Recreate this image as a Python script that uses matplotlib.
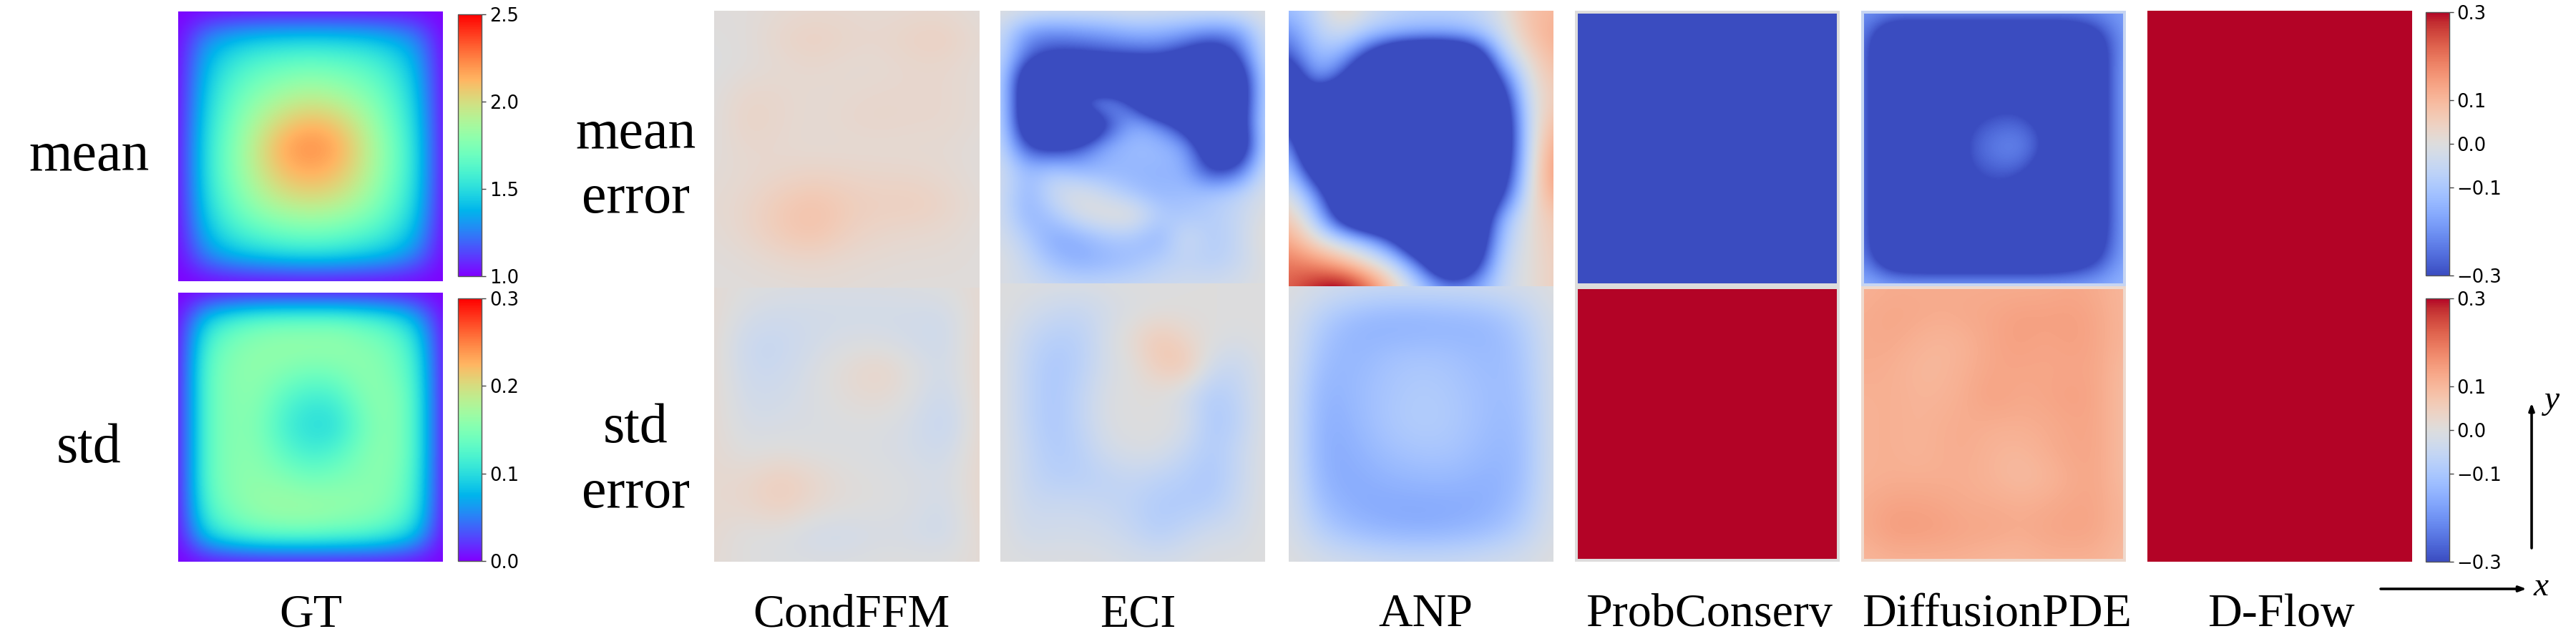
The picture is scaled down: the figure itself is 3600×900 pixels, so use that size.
# fields, coarse grids get smoothed by imshow
import matplotlib
matplotlib.use("Agg")
import matplotlib.pyplot as plt
from matplotlib.cm import ScalarMappable
from matplotlib.colors import Normalize

W, H = 3600, 900

gt_mean = [
    [1.0, 1.0, 1.0, 1.0, 1.0, 1.0, 1.0, 1.0, 1.0, 1.0, 1.0],
    [1.0, 1.28, 1.38, 1.43, 1.45, 1.46, 1.45, 1.43, 1.38, 1.28, 1.0],
    [1.0, 1.38, 1.55, 1.64, 1.68, 1.7, 1.68, 1.64, 1.55, 1.38, 1.0],
    [1.0, 1.43, 1.64, 1.76, 1.85, 1.89, 1.85, 1.76, 1.64, 1.43, 1.0],
    [1.0, 1.47, 1.7, 1.89, 2.03, 2.1, 2.05, 1.9, 1.7, 1.47, 1.0],
    [1.0, 1.5, 1.74, 1.98, 2.17, 2.24, 2.17, 1.98, 1.75, 1.5, 1.0],
    [1.0, 1.5, 1.74, 1.95, 2.1, 2.15, 2.1, 1.95, 1.74, 1.5, 1.0],
    [1.0, 1.47, 1.68, 1.85, 1.96, 2.0, 1.96, 1.85, 1.68, 1.47, 1.0],
    [1.0, 1.4, 1.58, 1.68, 1.74, 1.76, 1.74, 1.68, 1.58, 1.4, 1.0],
    [1.0, 1.27, 1.4, 1.46, 1.5, 1.52, 1.5, 1.46, 1.4, 1.27, 1.0],
    [1.0, 1.0, 1.0, 1.0, 1.0, 1.0, 1.0, 1.0, 1.0, 1.0, 1.0],
]
gt_std = [
    [0, 0, 0, 0, 0, 0, 0, 0, 0, 0, 0],
    [0, .09, .12, .135, .14, .14, .14, .13, .115, .08, 0],
    [0, .12, .15, .16, .165, .165, .165, .155, .145, .11, 0],
    [0, .13, .155, .16, .15, .14, .145, .16, .15, .12, 0],
    [0, .13, .155, .155, .125, .11, .115, .15, .16, .125, 0],
    [0, .13, .155, .15, .115, .098, .1, .14, .16, .125, 0],
    [0, .13, .155, .155, .13, .115, .125, .15, .16, .125, 0],
    [0, .13, .155, .16, .155, .145, .15, .155, .155, .12, 0],
    [0, .12, .15, .165, .17, .17, .165, .16, .15, .115, 0],
    [0, .09, .12, .135, .14, .14, .135, .13, .115, .085, 0],
    [0, 0, 0, 0, 0, 0, 0, 0, 0, 0, 0],
]
condffm_mean = [
    [.005, .005, .015, .02, .02, .015, .02, .02, .005],
    [0, .005, .03, .045, .03, .025, .04, .045, .015],
    [-.005, .005, .015, .025, .015, .015, .025, .025, .01],
    [0, .03, .025, .015, .02, .025, .025, .025, .01],
    [0, .04, .025, .015, .025, .03, .025, .025, .01],
    [.005, .025, .02, .015, .015, .015, .015, .015, .005],
    [.01, .02, .03, .04, .035, .03, .03, .02, .005],
    [.015, .03, .06, .08, .055, .045, .05, .035, .01],
    [.01, .03, .06, .08, .045, .03, .025, .02, .005],
    [.005, .01, .025, .03, .02, .015, .01, .01, .005],
    [.005, .005, .005, .01, .01, .005, .005, .005, .005],
]
condffm_std = [
    [.015, 0, -.005, -.01, -.01, -.01, -.005, 0, .02],
    [.02, -.02, -.03, -.025, -.025, -.025, -.025, -.03, .025],
    [.02, -.045, -.045, -.025, -.01, -.01, -.025, -.035, .03],
    [.02, -.04, -.04, -.01, .015, .04, 0, -.03, .03],
    [.02, -.03, -.025, -.01, .01, .02, -.005, -.045, .03],
    [.02, -.02, -.015, -.01, -.005, -.005, -.02, -.06, .03],
    [.02, -.005, .005, -.005, -.005, -.01, -.02, -.035, .03],
    [.02, .025, .055, .03, .005, 0, -.01, -.02, .03],
    [.02, .025, .05, .02, .005, 0, -.01, -.03, .03],
    [.02, -.005, -.005, -.03, -.03, -.015, -.02, -.035, .025],
    [.015, 0, -.005, -.005, -.005, 0, 0, 0, .015],
]
eci_mean = [
    [0, -.01, -.02, -.02, -.02, -.01, -.02, -.02, -.02, -.01, 0],
    [-.03, -.2, -.22, -.2, -.18, -.15, -.15, -.18, -.22, -.2, -.02],
    [-.04, -.26, -.32, -.32, -.3, -.29, -.28, -.36, -.45, -.3, -.03],
    [-.04, -.45, -.6, -.6, -.6, -.6, -.6, -.6, -.6, -.45, -.04],
    [-.04, -.45, -.6, -.2, -.12, -.3, -.6, -.6, -.6, -.45, -.04],
    [-.03, -.45, -.6, -.6, -.35, -.14, -.2, -.38, -.6, -.42, -.03],
    [-.03, -.3, -.35, -.28, -.14, -.12, -.12, -.16, -.45, -.5, -.03],
    [-.02, -.13, -.09, -.14, -.14, -.14, -.14, -.14, -.35, -.28, -.02],
    [-.02, -.15, -.03, 0, -.05, -.11, -.14, -.12, -.1, -.07, -.01],
    [-.02, -.15, -.1, -.01, .015, .025, -.08, -.1, -.08, -.05, 0],
    [-.015, -.08, -.17, -.15, -.1, -.1, -.15, -.02, -.09, -.05, .015],
    [0, -.05, -.12, -.16, -.14, -.12, -.08, -.06, -.08, -.05, 0],
    [-.01, -.03, -.05, -.06, -.06, -.05, -.04, -.03, -.03, -.02, 0],
]
eci_std = [
    [0, -.005, -.005, -.005, -.005, 0, 0, 0, 0, 0, 0],
    [0, -.02, -.04, -.05, -.025, -.01, -.005, 0, 0, 0, 0],
    [0, -.05, -.08, -.075, -.02, .02, .07, .03, 0, -.01, 0],
    [0, -.06, -.1, -.075, -.02, 0, .06, .075, -.03, -.05, 0],
    [0, -.06, -.1, -.06, -.01, 0, 0, -.03, -.09, -.06, 0],
    [0, -.06, -.1, -.06, -.01, 0, 0, -.01, -.1, -.07, 0],
    [0, -.05, -.09, -.075, -.025, -.01, -.01, -.05, -.09, -.05, 0],
    [0, -.05, -.075, -.075, -.065, -.05, -.065, -.08, -.1, -.05, 0],
    [0, -.04, -.04, -.04, -.05, -.065, -.09, -.09, -.08, -.04, 0],
    [0, -.03, -.025, -.025, -.03, -.05, -.08, -.05, -.025, -.025, 0],
    [0, -.005, -.005, -.005, -.01, -.015, -.015, -.01, -.005, -.005, 0],
]
anp_mean = [
    [-.12, -.06, .05, -.02, -.06, -.07, -.07, -.06, -.01, .08, .1],
    [-.22, -.08, -.03, -.1, -.13, -.15, -.15, -.12, -.04, .07, .12],
    [-.3, -.12, -.15, -.35, -.55, -.6, -.6, -.5, -.1, .02, .1],
    [-.5, -.16, -.3, -.6, -.6, -.6, -.6, -.6, -.3, -.01, .07],
    [-.5, -.5, -.6, -.6, -.6, -.6, -.6, -.6, -.45, -.03, .06],
    [-.3, -.6, -.6, -.6, -.6, -.6, -.6, -.6, -.5, -.05, .1],
    [-.15, -.6, -.6, -.6, -.6, -.6, -.6, -.6, -.5, -.05, .14],
    [-.08, -.4, -.6, -.6, -.6, -.6, -.6, -.6, -.45, -.04, .16],
    [0, -.18, -.5, -.6, -.6, -.6, -.6, -.6, -.35, -.02, .13],
    [.07, -.08, -.4, -.6, -.6, -.6, -.6, -.55, -.15, 0, .07],
    [.13, .02, -.05, -.12, -.3, -.6, -.6, -.5, -.1, 0, .06],
    [.2, .17, .1, .02, -.05, -.25, -.6, -.4, -.06, 0, .05],
    [.22, .3, .35, .22, .05, -.08, -.2, -.18, -.05, 0, .05],
]
anp_std = [
    [0, -.015, -.025, -.03, -.03, -.03, -.025, -.015, 0],
    [-.01, -.09, -.14, -.16, -.16, -.15, -.14, -.09, -.01],
    [-.01, -.12, -.14, -.11, -.1, -.11, -.13, -.11, -.01],
    [-.015, -.15, -.125, -.1, -.085, -.095, -.12, -.12, -.01],
    [-.015, -.16, -.135, -.095, -.08, -.09, -.12, -.13, -.01],
    [-.015, -.16, -.15, -.12, -.105, -.105, -.135, -.135, -.01],
    [-.01, -.14, -.16, -.155, -.15, -.15, -.155, -.125, -.01],
    [-.01, -.09, -.14, -.16, -.17, -.16, -.14, -.09, -.01],
    [0, -.015, -.02, -.03, -.03, -.03, -.02, -.015, 0],
]
probconserv_mean = [[-.5]]
probconserv_std = [[.5]]
diffusion_mean = [
    [-.2, -.2, -.2, -.2, -.2, -.2, -.2, -.2, -.2, -.2, -.18],
    [-.22, -.5, -.5, -.5, -.5, -.5, -.5, -.5, -.5, -.38, -.18],
    [-.22, -.5, -.5, -.5, -.5, -.5, -.5, -.5, -.5, -.4, -.16],
    [-.22, -.5, -.5, -.5, -.42, -.36, -.36, -.46, -.5, -.4, -.16],
    [-.22, -.5, -.5, -.46, -.31, -.27, -.26, -.33, -.5, -.4, -.16],
    [-.22, -.5, -.5, -.42, -.28, -.22, -.2, -.29, -.5, -.4, -.16],
    [-.22, -.5, -.5, -.46, -.31, -.28, -.28, -.4, -.5, -.4, -.16],
    [-.22, -.5, -.5, -.5, -.4, -.34, -.42, -.5, -.5, -.4, -.16],
    [-.22, -.5, -.5, -.5, -.5, -.5, -.5, -.5, -.5, -.4, -.16],
    [-.22, -.46, -.5, -.5, -.5, -.5, -.5, -.5, -.46, -.35, -.16],
    [-.15, -.16, -.16, -.16, -.16, -.16, -.16, -.16, -.16, -.16, -.14],
]
diffusion_std = [
    [.11, .12, .12, .12, .12, .12, .12, .12, .13, .12, .10],
    [.12, .13, .125, .12, .125, .13, .14, .14, .14, .13, .10],
    [.12, .125, .11, .10, .11, .13, .14, .13, .14, .13, .10],
    [.12, .115, .10, .10, .115, .13, .13, .13, .13, .13, .09],
    [.11, .115, .105, .105, .12, .14, .125, .13, .14, .13, .09],
    [.11, .115, .105, .115, .12, .115, .115, .12, .13, .13, .09],
    [.11, .115, .105, .115, .12, .105, .10, .115, .13, .13, .09],
    [.11, .115, .115, .115, .115, .105, .09, .10, .12, .13, .09],
    [.12, .135, .135, .13, .12, .12, .115, .12, .13, .13, .10],
    [.12, .145, .145, .14, .13, .13, .12, .13, .135, .13, .10],
    [.10, .11, .11, .11, .11, .10, .10, .11, .11, .11, .09],
]
dflow = [[.5]]

gt_mean_ticks = [1.0, 1.5, 2.0, 2.5]
gt_std_ticks = [0.0, 0.1, 0.2, 0.3]
err_ticks = [-0.3, -0.1, 0.0, 0.1, 0.3]
method_names = ["GT", "CondFFM", "ECI", "ANP", "ProbConserv", "DiffusionPDE", "D-Flow"]
method_x = [434, 1190, 1590, 1992, 2389, 2790, 3188]

SERIF = "Liberation Serif"
GRAY = "#dddcdc"


def pixel_axes(fig, x0, y0, x1, y1):
    # pixel box measured from the top left of the picture
    return fig.add_axes([x0 / W, 1 - y1 / H, (x1 - x0) / W, (y1 - y0) / H])


def draw_field(fig, box, grid, cmap, vmin, vmax):
    ax = pixel_axes(fig, *box)
    ax.imshow(grid, cmap=cmap, vmin=vmin, vmax=vmax, aspect="auto",
              interpolation="bicubic", interpolation_stage="data")
    # grid nodes sit on the panel edges, single value grids just fill the box
    if len(grid) > 1:
        ax.set_xlim(0, len(grid[0]) - 1)
        ax.set_ylim(len(grid) - 1, 0)
    ax.axis("off")
    return ax


def draw_frame(fig, box, color):
    ax = pixel_axes(fig, *box)
    ax.set_facecolor(color)
    ax.set_xticks([])
    ax.set_yticks([])
    for s in ax.spines.values():
        s.set_visible(False)


def draw_colorbar(fig, box, cmap, vmin, vmax, ticks, labels):
    cax = pixel_axes(fig, *box)
    cb = fig.colorbar(ScalarMappable(Normalize(vmin, vmax), cmap), cax=cax)
    cb.set_ticks(ticks, labels=labels)
    cb.ax.tick_params(labelsize=18.5, length=4, width=1, pad=4, color="#444444")
    cb.outline.set_edgecolor("#555555")
    cb.outline.set_linewidth(1)


fig = plt.figure(figsize=(W / 100, H / 100), dpi=100, facecolor="white")

# GT column
draw_field(fig, (249, 16, 619, 393), gt_mean, "rainbow", 1.0, 2.5)
draw_field(fig, (249, 409, 619, 785), gt_std, "rainbow", 0.0, 0.3)
draw_colorbar(fig, (640, 19.5, 673, 386), "rainbow", 1.0, 2.5, gt_mean_ticks,
              ["1.0", "1.5", "2.0", "2.5"])
draw_colorbar(fig, (640, 417, 673, 784), "rainbow", 0.0, 0.3, gt_std_ticks,
              ["0.0", "0.1", "0.2", "0.3"])

# error columns
draw_field(fig, (998, 15, 1368, 402), condffm_mean, "coolwarm", -0.3, 0.3)
draw_field(fig, (998, 402, 1368, 785), condffm_std, "coolwarm", -0.3, 0.3)
draw_field(fig, (1398, 15, 1768, 396), eci_mean, "coolwarm", -0.3, 0.3)
draw_field(fig, (1398, 396, 1768, 785), eci_std, "coolwarm", -0.3, 0.3)
draw_field(fig, (1801, 15, 2171, 400), anp_mean, "coolwarm", -0.3, 0.3)
draw_field(fig, (1801, 400, 2171, 785), anp_std, "coolwarm", -0.3, 0.3)

# these two have a thin pale frame round the field
draw_frame(fig, (2201, 15, 2571, 785), GRAY)
draw_field(fig, (2205, 19, 2567, 396), probconserv_mean, "coolwarm", -0.3, 0.3)
draw_field(fig, (2205, 404, 2567, 781), probconserv_std, "coolwarm", -0.3, 0.3)

draw_frame(fig, (2601, 15, 2971, 400), "#c6d5f2")
draw_frame(fig, (2601, 400, 2971, 785), "#eed9cd")
draw_field(fig, (2605, 19, 2967, 396), diffusion_mean, "coolwarm", -0.3, 0.3)
draw_field(fig, (2605, 404, 2967, 781), diffusion_std, "coolwarm", -0.3, 0.3)

draw_field(fig, (3001, 15, 3371, 785), dflow, "coolwarm", -0.3, 0.3)

err_labels = ["\u22120.3", "\u22120.1", "0.0", "0.1", "0.3"]
draw_colorbar(fig, (3390, 17, 3422.5, 385), "coolwarm", -0.3, 0.3, err_ticks, err_labels)
draw_colorbar(fig, (3390, 417, 3422.5, 785), "coolwarm", -0.3, 0.3, err_ticks, err_labels)

# text and arrows on a full size overlay
over = fig.add_axes([0, 0, 1, 1], facecolor="none")
over.set_xlim(0, W)
over.set_ylim(H, 0)
over.axis("off")

for name, x in zip(method_names, method_x):
    over.text(x, 875, name, family=SERIF, fontsize=47.5, ha="center", va="baseline")
over.text(124, 238, "mean", family=SERIF, fontsize=56, ha="center", va="baseline")
over.text(124, 646, "std", family=SERIF, fontsize=56, ha="center", va="baseline")
over.text(888, 207, "mean", family=SERIF, fontsize=56, ha="center", va="baseline")
over.text(888, 297, "error", family=SERIF, fontsize=56, ha="center", va="baseline")
over.text(888, 618, "std", family=SERIF, fontsize=56, ha="center", va="baseline")
over.text(888, 709, "error", family=SERIF, fontsize=56, ha="center", va="baseline")

arrow = dict(arrowstyle="-|>,head_width=0.22,head_length=0.6", color="black", lw=2.6,
             shrinkA=0, shrinkB=0)
over.annotate("", xy=(3531, 823), xytext=(3327, 823), arrowprops=arrow)
over.annotate("", xy=(3538, 563), xytext=(3538, 766), arrowprops=arrow)
over.text(3551, 832, "x", family=SERIF, style="italic", fontsize=34, ha="center", va="baseline")
over.text(3566, 571, "y", family=SERIF, style="italic", fontsize=34, ha="center", va="baseline")

fig.savefig("out.png", dpi=100)
